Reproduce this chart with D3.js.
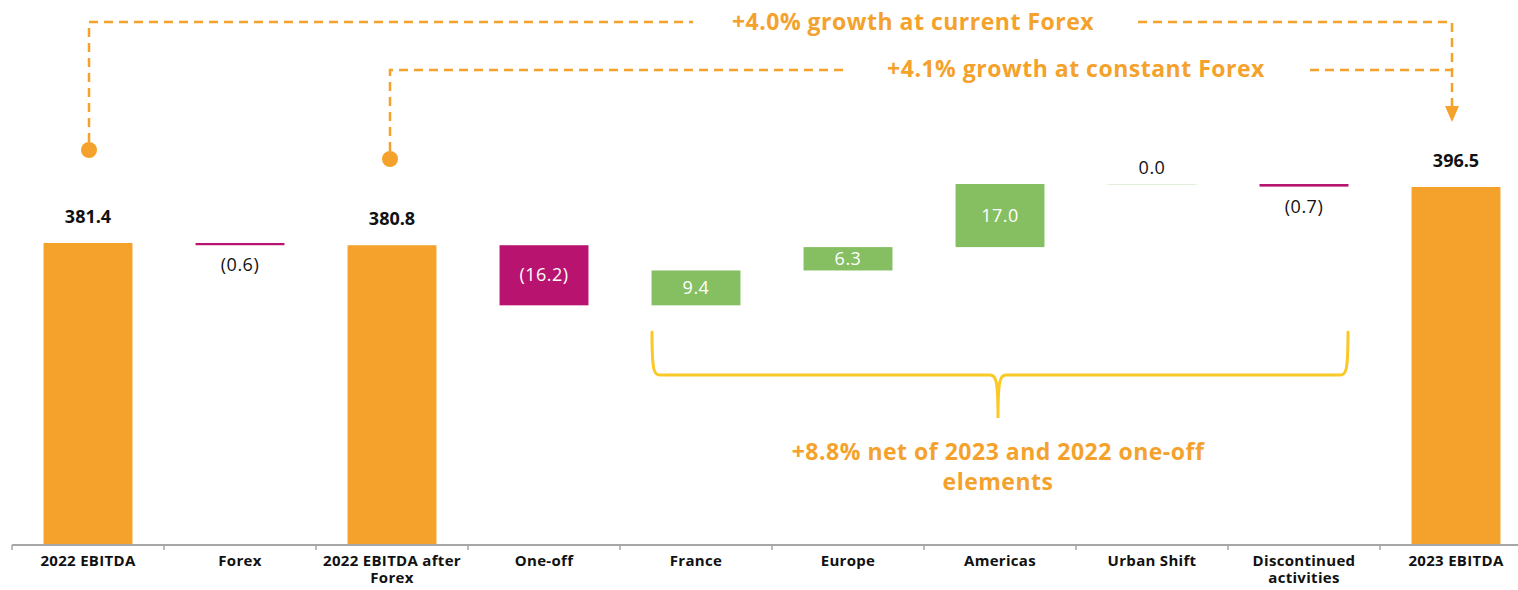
<!DOCTYPE html>
<html>
<head>
<meta charset="utf-8">
<script src="https://cdn.jsdelivr.net/npm/d3@7"></script>
<style>
  body { margin: 0; background: #fff; }
  svg { display: block; font-family: 'Open Sans', Lato, sans-serif; }
</style>
</head>
<body>
<div id="chart"></div>
<script>
const categories = ['2022 EBITDA', 'Forex', '2022 EBITDA after Forex', 'One-off', 'France', 'Europe', 'Americas', 'Urban Shift', 'Discontinued activities', '2023 EBITDA']
const labelLines = [['2022 EBITDA'], ['Forex'], ['2022 EBITDA after', 'Forex'], ['One-off'], ['France'], ['Europe'], ['Americas'], ['Urban Shift'], ['Discontinued', 'activities'], ['2023 EBITDA']]
const values = [381.4, -0.6, 380.8, -16.2, 9.4, 6.3, 17.0, 0.0, -0.7, 396.5]
const kinds = ['total', 'delta', 'total', 'delta', 'delta', 'delta', 'delta', 'delta', 'delta', 'total']
const valueLabels = ['381.4', '(0.6)', '380.8', '(16.2)', '9.4', '6.3', '17.0', '0.0', '(0.7)', '396.5']

const width = 1518
const height = 590
const orange = '#f4a22b'
const magenta = '#b7136f'
const green = '#86bf62'

const svg = d3.select('#chart').append('svg')
  .attr('width', width)
  .attr('height', height)

const x = d3.scaleBand()
  .domain(categories)
  .range([12, 1532])
  .padding(0)
const barW = x.bandwidth() * 0.585

const y = d3.scaleLinear()
  .domain([300, 446.9])
  .range([545, 0])

// running totals for the waterfall
let run = 0
const bars = categories.map((c, i) => {
  let start, end
  if (kinds[i] === 'total') {
    start = 300
    end = values[i]
    run = values[i]
  } else {
    start = run
    end = run + values[i]
    run = end
  }
  return {cat: c, value: values[i], kind: kinds[i], start, end, label: valueLabels[i]}
})

function barColor(d) {
  if (d.kind === 'total') return orange
  if (d.value === 0) return '#e2f0d9'
  return d.value < 0 ? magenta : green
}

const g = svg.append('g')

g.selectAll('.bar')
  .data(bars)
  .enter().append('rect')
  .attr('class', 'bar')
  .attr('x', d => x(d.cat) + (x.bandwidth() - barW) / 2)
  .attr('width', barW)
  .attr('y', d => y(Math.max(d.start, d.end)))
  .attr('height', d => Math.max(1, Math.abs(y(d.start) - y(d.end))))
  .attr('fill', barColor)

// value labels
const inside = d => d.kind !== 'total' && Math.abs(y(d.start) - y(d.end)) > 20

g.selectAll('.val')
  .data(bars)
  .enter().append('text')
  .attr('class', 'val')
  .attr('x', d => x(d.cat) + x.bandwidth() / 2)
  .attr('y', d => {
    const top = y(Math.max(d.start, d.end))
    const bot = y(Math.min(d.start, d.end))
    if (d.kind === 'total') return top - 20
    if (inside(d)) return (top + bot) / 2 + 6
    return d.value < 0 ? bot + 26 : top - 10
  })
  .attr('text-anchor', 'middle')
  .attr('font-size', 18)
  .attr('letter-spacing', d => d.kind === 'total' ? 0 : 0.5)
  .attr('font-weight', d => d.kind === 'total' ? 700 : 400)
  .attr('fill', d => inside(d) ? '#fff' : '#111')
  .text(d => d.label)

// axis
const axisG = svg.append('g').attr('transform', 'translate(0,545)')
axisG.append('line')
  .attr('x1', 12).attr('x2', width)
  .attr('stroke', '#a6a6a6').attr('stroke-width', 2)
axisG.selectAll('.tick-mark')
  .data(categories)
  .enter().append('line')
  .attr('x1', d => x(d)).attr('x2', d => x(d))
  .attr('y1', 0).attr('y2', 5)
  .attr('stroke', '#a6a6a6').attr('stroke-width', 1.5)

axisG.selectAll('.cat')
  .data(categories)
  .enter().append('text')
  .attr('class', 'cat')
  .attr('x', d => x(d) + x.bandwidth() / 2)
  .attr('y', 21)
  .attr('text-anchor', 'middle')
  .attr('font-size', 15)
  .attr('letter-spacing', 0.3)
  .attr('font-weight', 700)
  .attr('fill', '#111')
  .each(function (d, i) {
    labelLines[i].forEach((line, j) => {
      d3.select(this).append('tspan')
        .attr('x', x(d) + x.bandwidth() / 2)
        .attr('dy', j === 0 ? 0 : 17)
        .text(line)
    })
  })

// growth annotations
const ann = svg.append('g')
  .attr('fill', 'none')
  .attr('stroke', orange)
  .attr('stroke-width', 2.5)
  .attr('stroke-dasharray', '9,6')

const c0 = x(categories[0]) + x.bandwidth() / 2 + 1
const c2 = x(categories[2]) + x.bandwidth() / 2 - 2
const c9 = x(categories[9]) + x.bandwidth() / 2 - 4

ann.append('path').attr('d', `M${c0},142 V22 H693`)
ann.append('path').attr('d', `M1138,22 H${c9} V108`)
ann.append('path').attr('d', `M${c2},151 V70 H848`)
ann.append('path').attr('d', `M1310,70 H${c9}`)

svg.append('path')
  .attr('d', `M${c9 - 7},106 L${c9 + 7},106 L${c9},122 Z`)
  .attr('fill', orange)

svg.append('circle').attr('cx', c0).attr('cy', 150).attr('r', 8).attr('fill', orange)
svg.append('circle').attr('cx', c2).attr('cy', 159).attr('r', 8).attr('fill', orange)

const annText = svg.append('g')
  .attr('text-anchor', 'middle')
  .attr('font-size', 23).attr('font-weight', 700)
  .attr('letter-spacing', 0.5)
  .attr('fill', orange)

annText.append('text')
  .attr('x', 913).attr('y', 30)
  .text('+4.0% growth at current Forex')

annText.append('text')
  .attr('x', 1076).attr('y', 77)
  .text('+4.1% growth at constant Forex')

// brace over the operating contributions
const bx0 = 652
const bx1 = 1348
const bmid = 998
svg.append('path')
  .attr('d', `M${bx0},332 C${bx0},372 ${bx0 + 2},375 ${bx0 + 8},375 H${bmid - 8} C${bmid - 2},375 ${bmid},380 ${bmid},418` +
    ` C${bmid},380 ${bmid + 2},375 ${bmid + 8},375 H${bx1 - 8} C${bx1 - 2},375 ${bx1},372 ${bx1},332`)
  .attr('fill', 'none')
  .attr('stroke', '#fbc926')
  .attr('stroke-width', 3)
  .attr('stroke-linecap', 'round')

const note = annText.append('text')
note.append('tspan').attr('x', bmid).attr('y', 460).text('+8.8% net of 2023 and 2022 one-off')
note.append('tspan').attr('x', bmid).attr('y', 490).text('elements')
</script>
</body>
</html>
